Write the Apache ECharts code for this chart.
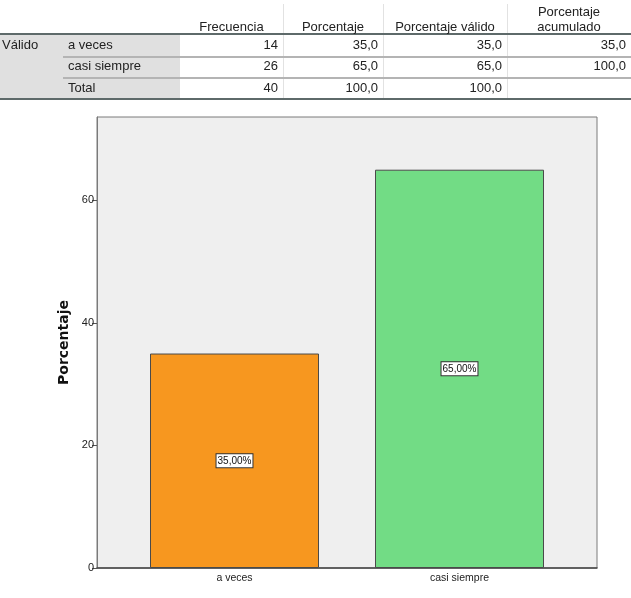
<!DOCTYPE html>
<html>
<head>
<meta charset="utf-8">
<script src="https://cdn.jsdelivr.net/npm/echarts@6/dist/echarts.min.js"></script>
<style>
  body { margin: 0; background: #fff; }
  #wrap { position: relative; width: 631px; height: 598px; font-family: "Liberation Sans", Arial, sans-serif; color: #222; }
  #main { position: absolute; left: 0; top: 0; width: 631px; height: 598px; }
  #tabla { position: absolute; left: 0; top: 0; width: 631px; height: 104px; }
  #tabla div { position: absolute; font-size: 13px; line-height: 15px; white-space: nowrap; }
</style>
</head>
<body>
<div id="wrap">
  <div id="main"></div>
  <div id="tabla"></div>
</div>
<script type="text/javascript">
  // tabla de frecuencias
  var grupo = 'Válido';
  var filas = ['a veces', 'casi siempre', 'Total'];
  var encabezados = ['Frecuencia', 'Porcentaje', 'Porcentaje válido', 'Porcentaje<br>acumulado'];
  var frecuencia = [14, 26, 40];
  var porcentaje = [35.0, 65.0, 100.0];
  var porcentajeValido = [35.0, 65.0, 100.0];
  var porcentajeAcumulado = [35.0, 100.0, null];

  // grafico
  var categorias = ['a veces', 'casi siempre'];
  var valores = [35, 65];
  var colores = ['#f7971f', '#72dc85'];

  var tabla = document.getElementById('tabla');
  function caja(css, html) {
    var d = document.createElement('div');
    d.style.cssText = css;
    if (html != null) d.innerHTML = html;
    tabla.appendChild(d);
  }
  function num(v, dec) {
    if (v == null) return '';
    return dec ? v.toFixed(1).replace('.', ',') : String(v);
  }

  var colIzq = [180, 283, 383, 507];
  var colDer = [283, 383, 507, 631];
  var filaCentro = [44, 65, 87];

  caja('left:0;top:35px;width:180px;height:63px;background:#e0e0e0;');
  for (var c = 1; c < colIzq.length; c++) {
    caja('left:' + colIzq[c] + 'px;top:4px;width:1px;height:94px;background:#e2e2e2;');
  }
  caja('left:0;top:33px;width:631px;height:2px;background:#5e6a6a;');
  caja('left:63px;top:56px;width:568px;height:2px;background:#b4b4b4;');
  caja('left:63px;top:77px;width:568px;height:2px;background:#b4b4b4;');
  caja('left:0;top:98px;width:631px;height:2px;background:#5e6a6a;');

  for (var h = 0; h < encabezados.length; h++) {
    var dos = encabezados[h].indexOf('<br>') > -1;
    caja('left:' + colIzq[h] + 'px;width:' + (colDer[h] - colIzq[h]) + 'px;top:' + (dos ? 4 : 19) + 'px;text-align:center;', encabezados[h]);
  }

  caja('left:2px;top:' + (filaCentro[0] - 7) + 'px;', grupo);
  var columnas = [frecuencia, porcentaje, porcentajeValido, porcentajeAcumulado];
  for (var i = 0; i < filas.length; i++) {
    caja('left:68px;top:' + (filaCentro[i] - 7) + 'px;', filas[i]);
    for (var k = 0; k < columnas.length; k++) {
      caja('left:' + colIzq[k] + 'px;width:' + (colDer[k] - colIzq[k] - 5) + 'px;top:' + (filaCentro[i] - 7) + 'px;text-align:right;',
        num(columnas[k][i], k > 0));
    }
  }

  var myChart = echarts.init(document.getElementById('main'));
  var yMax = 73.6;
  var option = {
    animation: false,
    grid: [
      { left: 97, top: 117, width: 500, height: 451, show: true, backgroundColor: '#efefef', borderColor: '#7a7a7a', borderWidth: 1 },
      { left: 122, top: 117, width: 450, height: 451 }
    ],
    xAxis: [
      {
        gridIndex: 0, type: 'value', min: 0, max: 1,
        axisLine: { show: true, lineStyle: { color: '#444', width: 1.5 } },
        axisTick: { show: false }, axisLabel: { show: false }, splitLine: { show: false }
      },
      {
        gridIndex: 1, type: 'category', data: categorias,
        axisLine: { show: false },
        axisTick: { alignWithLabel: true, length: 5, lineStyle: { color: '#333' } },
        axisLabel: { fontSize: 10.5, color: '#222', margin: 5, fontFamily: 'Liberation Sans' }
      }
    ],
    yAxis: [
      {
        gridIndex: 0, type: 'value', min: 0, max: yMax, interval: 20,
        name: 'Porcentaje', nameLocation: 'middle', nameGap: 24,
        nameTextStyle: { fontSize: 14, fontWeight: 'bold', color: '#111', fontFamily: 'DejaVu Sans' },
        splitLine: { show: false },
        axisLine: { show: true, lineStyle: { color: '#7a7a7a' } },
        axisTick: { show: true, length: 5, lineStyle: { color: '#555' }, customValues: [0, 20, 40, 60] },
        axisLabel: { fontSize: 11, color: '#222', margin: 3, fontFamily: 'Liberation Sans', customValues: [0, 20, 40, 60] }
      },
      { gridIndex: 1, type: 'value', min: 0, max: yMax, show: false }
    ],
    series: [
      {
        type: 'bar',
        xAxisIndex: 1,
        yAxisIndex: 1,
        barWidth: 169,
        data: valores.map(function (v, i) {
          return { value: v, itemStyle: { color: colores[i] } };
        }),
        itemStyle: { borderColor: '#4a4a4a', borderWidth: 1 },
        label: {
          show: true,
          position: 'inside',
          formatter: function (p) { return p.value.toFixed(2).replace('.', ',') + '%'; },
          backgroundColor: '#fff',
          borderColor: '#333',
          borderWidth: 1,
          padding: [2, 1, 1, 1],
          fontSize: 10,
          color: '#111',
          fontFamily: 'Liberation Sans'
        }
      }
    ]
  };
  myChart.setOption(option);
</script>
</body>
</html>
